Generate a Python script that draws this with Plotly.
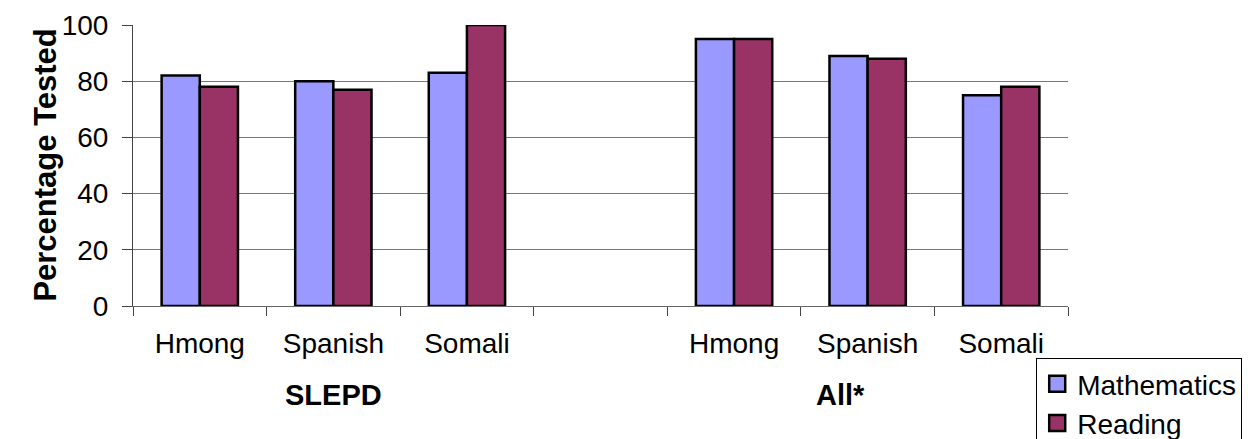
import plotly.graph_objects as go

positions = [0, 1, 2, 4, 5, 6]
categories = ["Hmong", "Spanish", "Somali", "Hmong", "Spanish", "Somali"]
groups = ["SLEPD", "All*"]
group_centers = [1.0, 4.8]
mathematics = [82, 80, 83, 95, 89, 75]
reading = [78, 77, 100, 95, 88, 78]
y_ticks = [0, 20, 40, 60, 80, 100]

FONT = "Arial, Liberation Sans, sans-serif"
MATH_COLOR = "#9999FF"
READ_COLOR = "#993366"

fig = go.Figure()
fig.add_trace(go.Bar(x=positions, y=mathematics, name="Mathematics",
                     marker=dict(color=MATH_COLOR, line=dict(color="black", width=2.5)),
                     showlegend=False))
fig.add_trace(go.Bar(x=positions, y=reading, name="Reading",
                     marker=dict(color=READ_COLOR, line=dict(color="black", width=2.5)),
                     showlegend=False))
# legend proxies
for name, col in [("Mathematics", MATH_COLOR), ("Reading", READ_COLOR)]:
    fig.add_trace(go.Scatter(x=[None], y=[None], mode="markers", name=name,
                             marker=dict(symbol="square", size=20, color=col,
                                         line=dict(color="black", width=2.5))))

fig.update_layout(
    width=1248, height=439,
    margin=dict(l=133, r=180, t=25, b=133, autoexpand=False),
    paper_bgcolor="white", plot_bgcolor="white",
    barmode="group", bargap=1.5/3.5, bargroupgap=0,
    font=dict(family=FONT, size=28, color="black"),
    legend=dict(x=0.966, y=-0.185, xanchor="left", yanchor="top",
                bgcolor="white", bordercolor="black", borderwidth=1,
                font=dict(size=28), itemsizing="trace", tracegroupgap=0,
                itemwidth=30),
)
fig.update_xaxes(
    range=[-0.5, 6.5], tickmode="array", tickvals=positions, ticktext=categories,
    ticks="", showgrid=False, zeroline=False, showline=True, linecolor="#666666",
    linewidth=1, tickfont=dict(size=28), ticklabelstandoff=12,
    minor=dict(tick0=-0.5, dtick=1, ticks="outside", ticklen=9, tickcolor="#444444",
               showgrid=False),
)
fig.update_yaxes(
    range=[0, 100], tickmode="array", tickvals=y_ticks,
    ticks="outside", ticklen=10, tickcolor="#444444",
    showgrid=True, gridcolor="#777777", gridwidth=1,
    zeroline=True, zerolinecolor="#444444", zerolinewidth=1,
    showline=True, linecolor="#444444", linewidth=1,
    tickfont=dict(size=28), ticklabelstandoff=8,
)

fig.add_annotation(text="<b>Percentage Tested</b>", textangle=-90,
                   x=-0.094, y=0.5, xref="paper", yref="paper",
                   xanchor="center", yanchor="middle",
                   showarrow=False, font=dict(size=31))
for g, c in zip(groups, group_centers):
    fig.add_annotation(text=f"<b>{g}</b>", x=c, y=-0.317, xref="x", yref="paper",
                       xanchor="center", yanchor="middle",
                       showarrow=False, font=dict(size=29))

fig.write_html("out.html")
